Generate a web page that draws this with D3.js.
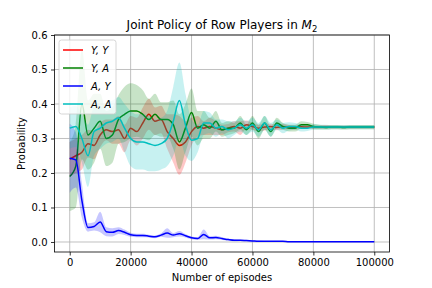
<!DOCTYPE html>
<html>
<head>
<script src="https://cdn.jsdelivr.net/npm/d3@7"></script>
<style>
  body { margin: 0; background: #fff; }
  text { font-family: "DejaVu Sans", sans-serif; }
</style>
</head>
<body>
<svg width="432" height="288" id="mainsvg"></svg>
<script>
const episodes = d3.range(0, 100001, 2000);

// means
const yy = [0.24,0.25,0.26,0.285,0.28,0.31,0.325,0.32,0.325,0.30,0.33,0.32,0.345,0.37,0.35,0.355,0.32,0.30,0.28,0.29,
  0.32,0.335,0.33,0.335,0.33,0.325,0.33,0.335,0.33,0.34,0.335,0.33,0.333,0.335,0.332,0.334,0.333,0.332,0.334,0.333,
  0.333,0.333,0.334,0.333,0.333,0.333,0.333,0.333,0.333,0.333,0.333];
const ya = [0.19,0.22,0.40,0.31,0.33,0.35,0.30,0.31,0.355,0.37,0.38,0.38,0.37,0.355,0.37,0.355,0.355,0.34,0.29,0.33,
  0.375,0.33,0.34,0.33,0.35,0.325,0.33,0.33,0.345,0.325,0.345,0.32,0.345,0.32,0.345,0.335,0.33,0.33,0.34,0.34,
  0.335,0.333,0.332,0.333,0.333,0.332,0.333,0.333,0.333,0.333,0.333];
const ay = [0.243,0.238,0.12,0.042,0.045,0.058,0.03,0.028,0.033,0.028,0.021,0.019,0.019,0.017,0.015,0.02,0.026,0.02,0.024,0.018,
  0.012,0.01,0.022,0.012,0.013,0.01,0.007,0.005,0.005,0.004,0.003,0.002,0.002,0.002,0.002,0.002,0.001,0.001,0.001,0.001,
  0.001,0.001,0.001,0.001,0.001,0.001,0.001,0.001,0.001,0.001,0.001];
const aa = [0.33,0.335,0.30,0.25,0.32,0.33,0.345,0.35,0.36,0.33,0.30,0.29,0.29,0.285,0.28,0.285,0.30,0.35,0.41,0.34,
  0.295,0.30,0.345,0.345,0.33,0.335,0.325,0.33,0.34,0.33,0.34,0.325,0.345,0.325,0.34,0.33,0.335,0.335,0.33,0.33,
  0.333,0.333,0.333,0.333,0.333,0.333,0.333,0.333,0.333,0.333,0.333];

// half widths of the shaded bands
const yySpread = [0.05,0.05,0.05,0.04,0.04,0.035,0.03,0.035,0.04,0.04,0.035,0.04,0.045,0.045,0.04,0.04,0.05,0.07,0.085,0.06,
  0.04,0.03,0.02,0.025,0.02,0.015,0.012,0.015,0.02,0.012,0.01,0.01,0.01,0.008,0.008,0.008,0.006,0.006,0.006,0.005,
  0.005,0.005,0.005,0.004,0.004,0.004,0.004,0.004,0.004,0.004,0.004];
const yaSpread = [0.1,0.12,0.16,0.1,0.1,0.08,0.08,0.08,0.07,0.08,0.08,0.075,0.07,0.06,0.06,0.05,0.05,0.07,0.08,0.07,
  0.07,0.05,0.04,0.03,0.03,0.02,0.02,0.015,0.02,0.015,0.02,0.02,0.02,0.015,0.015,0.01,0.01,0.01,0.01,0.008,
  0.008,0.007,0.006,0.006,0.006,0.006,0.006,0.006,0.006,0.006,0.006];
const aySpread = [0.1,0.08,0.05,0.012,0.012,0.03,0.013,0.012,0.01,0.008,0.006,0.005,0.005,0.004,0.004,0.005,0.014,0.006,0.008,0.005,
  0.004,0.004,0.014,0.005,0.005,0.004,0.003,0.003,0.002,0.002,0.002,0.002,0.001,0.001,0.001,0.001,0.001,0.001,0.001,0.001,
  0.001,0.001,0.001,0.001,0.001,0.001,0.001,0.001,0.001,0.001,0.001];
const aaSpread = [0.06,0.06,0.07,0.09,0.07,0.06,0.06,0.06,0.06,0.07,0.08,0.08,0.08,0.08,0.075,0.075,0.08,0.1,0.11,0.09,
  0.06,0.04,0.035,0.03,0.025,0.02,0.025,0.02,0.02,0.02,0.02,0.02,0.02,0.02,0.015,0.015,0.012,0.01,0.01,0.008,
  0.008,0.007,0.007,0.006,0.006,0.006,0.006,0.006,0.006,0.006,0.006];

const labels = ['Y, Y', 'Y, A', 'A, Y', 'A, A'];
const colors = ['#ff0000', '#008000', '#0000ff', '#00bfbf'];
const xTicks = [0, 20000, 40000, 60000, 80000, 100000];
const yTicks = [0.0, 0.1, 0.2, 0.3, 0.4, 0.5, 0.6];

const series = [
  { mean: yy, spread: yySpread },
  { mean: ya, spread: yaSpread },
  { mean: ay, spread: aySpread },
  { mean: aa, spread: aaSpread }
];

const svg = d3.select('svg');
const margin = { left: 54.5, right: 42.5, top: 35, bottom: 36 };
const width = 432, height = 288;

const x = d3.scaleLinear().domain([-5000, 105000]).range([margin.left, width - margin.right]);
const y = d3.scaleLinear().domain([-0.029, 0.6]).range([height - margin.bottom, margin.top]);

// grid
svg.append('g').selectAll('line').data(xTicks).join('line')
  .attr('x1', d => x(d)).attr('x2', d => x(d))
  .attr('y1', y.range()[0]).attr('y2', y.range()[1])
  .attr('stroke', '#b0b0b0').attr('stroke-width', 0.8);
svg.append('g').selectAll('line').data(yTicks).join('line')
  .attr('y1', d => y(d)).attr('y2', d => y(d))
  .attr('x1', x.range()[0]).attr('x2', x.range()[1])
  .attr('stroke', '#b0b0b0').attr('stroke-width', 0.8);

const plot = svg.append('g');
series.forEach((s, i) => {
  const pts = episodes.map((e, j) => ({ e, m: s.mean[j], w: s.spread[j] }));
  const area = d3.area().curve(d3.curveMonotoneX)
    .x(d => x(d.e)).y0(d => y(d.m - d.w)).y1(d => y(d.m + d.w));
  const line = d3.line().curve(d3.curveMonotoneX)
    .x(d => x(d.e)).y(d => y(d.m));
  plot.append('path').attr('d', area(pts))
    .attr('fill', colors[i]).attr('fill-opacity', 0.22).attr('stroke', 'none');
  plot.append('path').attr('d', line(pts))
    .attr('fill', 'none').attr('stroke', colors[i]).attr('stroke-width', 1.5);
});

// axes
const xAxis = d3.axisBottom(x).tickValues(xTicks).tickSize(3.5).tickPadding(3.5).tickFormat(d3.format('d'));
const yAxis = d3.axisLeft(y).tickValues(yTicks).tickSize(3.5).tickPadding(3.5).tickFormat(d3.format('.1f'));
const gx = svg.append('g').attr('transform', `translate(0,${y.range()[0]})`).call(xAxis);
const gy = svg.append('g').attr('transform', `translate(${x.range()[0]},0)`).call(yAxis);
[gx, gy].forEach(g => {
  g.select('.domain').remove();
  g.selectAll('line').attr('stroke', '#000').attr('stroke-width', 0.8);
  g.selectAll('text').attr('font-size', 10).attr('fill', '#000').attr('font-family', 'DejaVu Sans');
});

// frame
svg.append('rect')
  .attr('x', x.range()[0]).attr('y', y.range()[1])
  .attr('width', x.range()[1] - x.range()[0]).attr('height', y.range()[0] - y.range()[1])
  .attr('fill', 'none').attr('stroke', '#000').attr('stroke-width', 0.8);

// title and labels
const title = svg.append('text').attr('x', (x.range()[0] + x.range()[1]) / 2).attr('y', 29)
  .attr('text-anchor', 'middle').attr('font-size', 12);
title.append('tspan').text('Joint Policy of Row Players in ');
title.append('tspan').attr('font-style', 'italic').text('M');
title.append('tspan').attr('font-size', 8.5).attr('dy', 2.5).text('2');

svg.append('text').attr('x', (x.range()[0] + x.range()[1]) / 2).attr('y', 281)
  .attr('text-anchor', 'middle').attr('font-size', 10).text('Number of episodes');
svg.append('text').attr('transform', `translate(25,${(y.range()[0] + y.range()[1]) / 2}) rotate(-90)`)
  .attr('text-anchor', 'middle').attr('font-size', 10).text('Probability');

// legend
const lg = svg.append('g').attr('transform', 'translate(59,40)');
lg.append('rect').attr('width', 57).attr('height', 74).attr('rx', 2.5)
  .attr('fill', 'white').attr('fill-opacity', 0.8).attr('stroke', '#cccccc').attr('stroke-width', 0.8);
labels.forEach((l, i) => {
  const row = lg.append('g').attr('transform', `translate(0,${10 + i * 18})`);
  row.append('line').attr('x1', 4).attr('x2', 24).attr('stroke', colors[i]).attr('stroke-width', 1.5);
  row.append('text').attr('x', 32).attr('y', 3.5).attr('font-size', 10)
    .attr('font-style', 'italic').text(l);
});
</script>
</body>
</html>
